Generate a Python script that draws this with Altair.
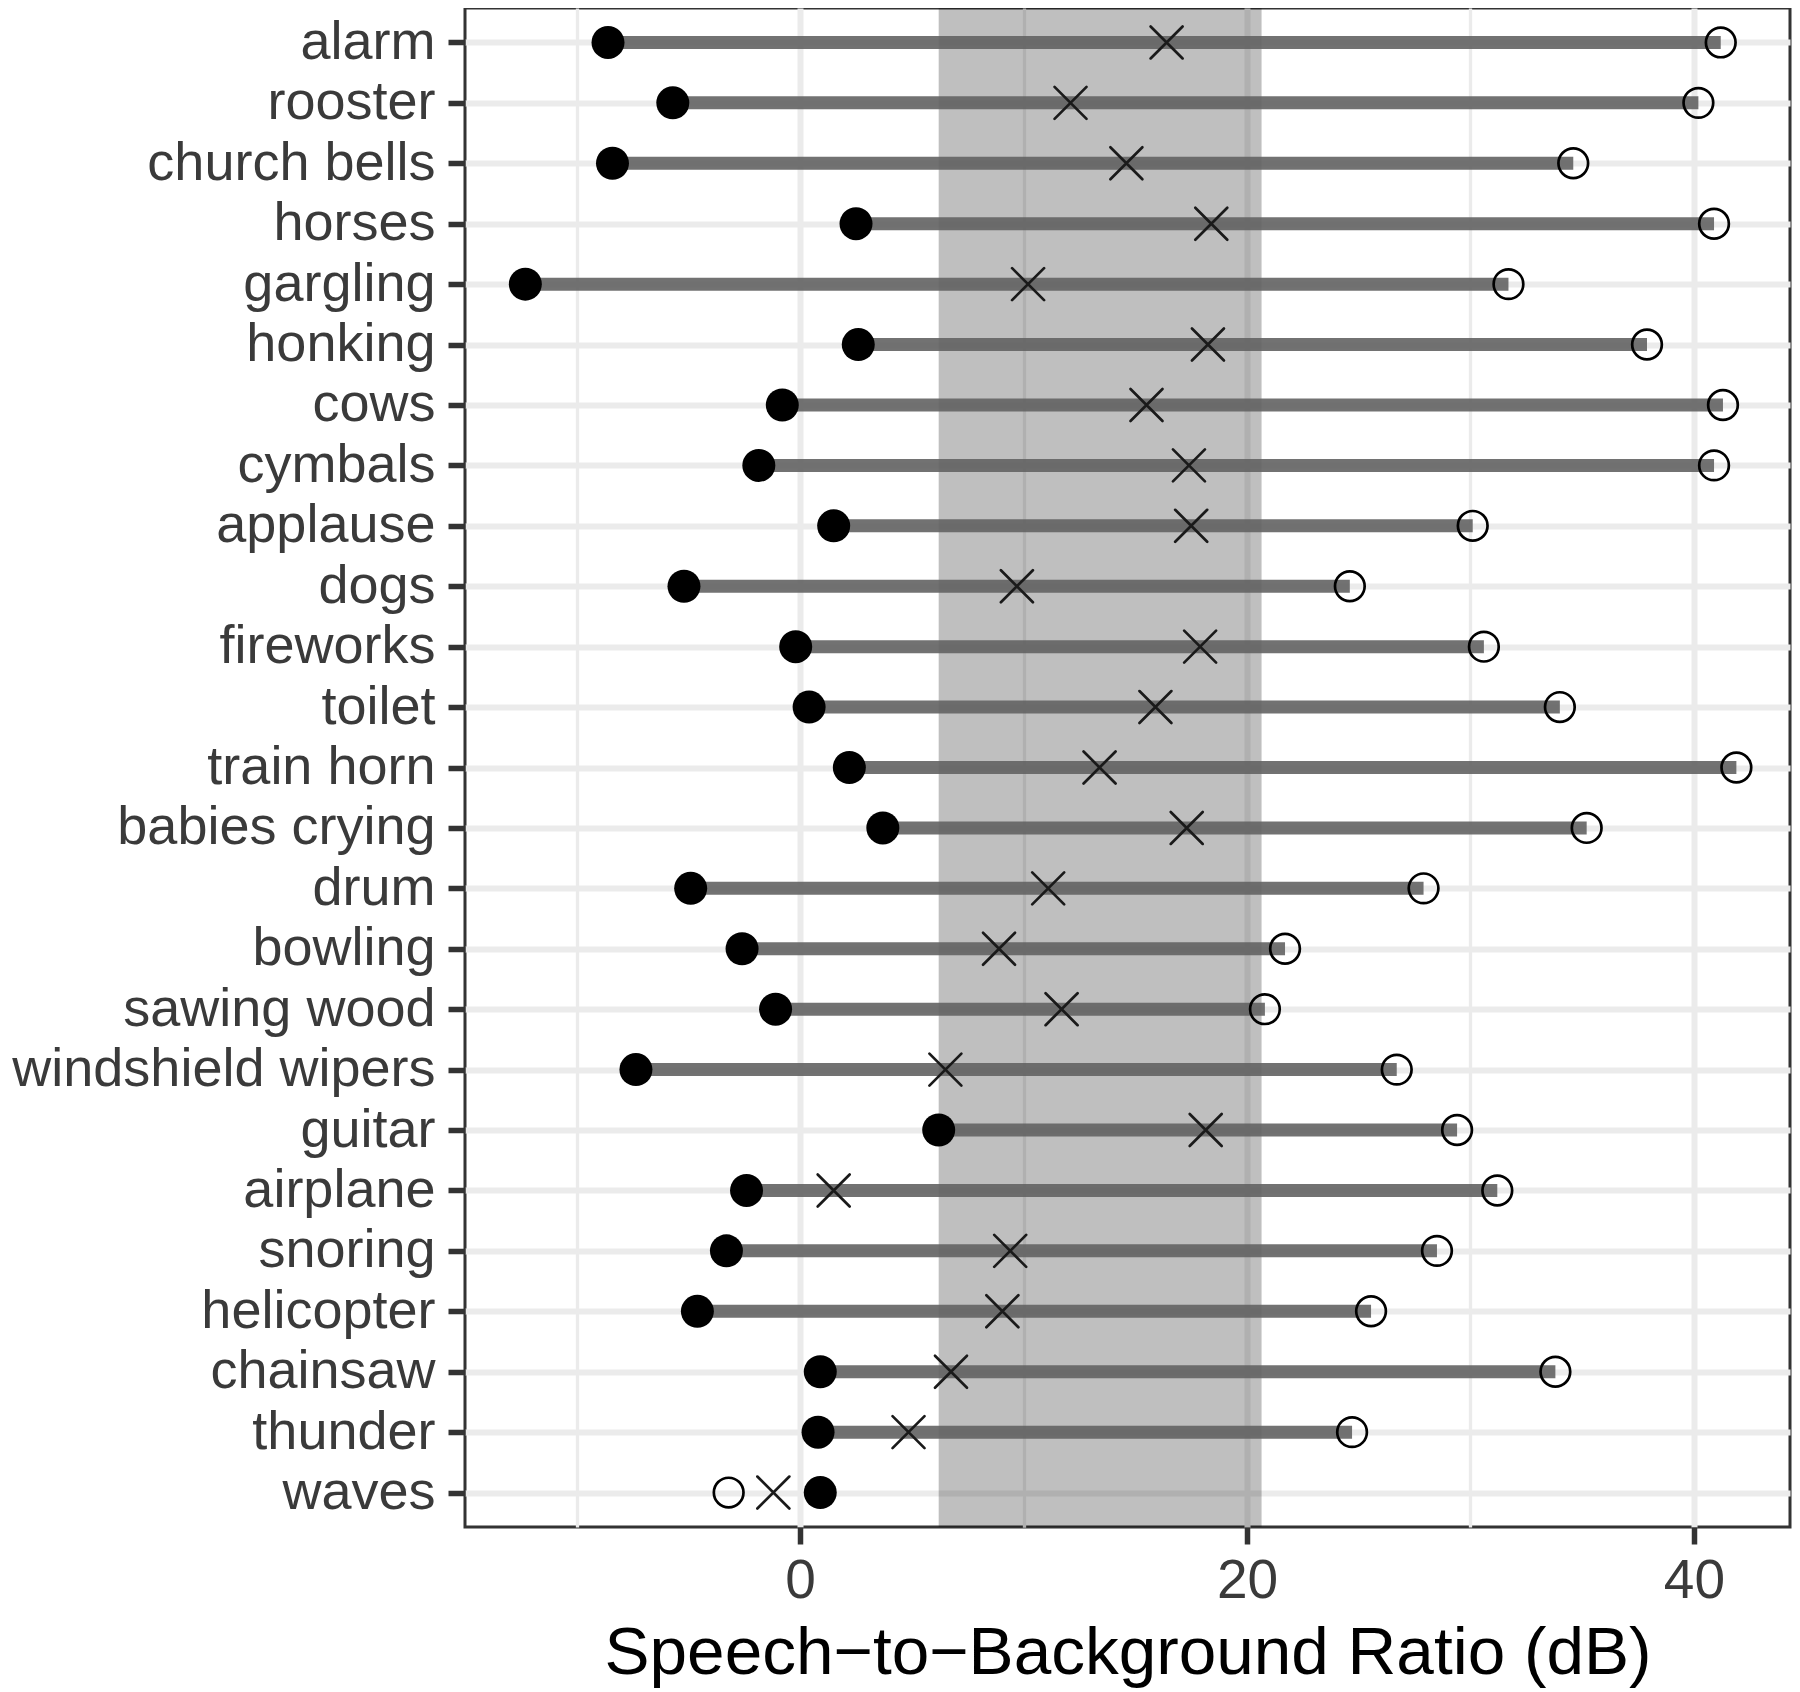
import altair as alt
import pandas as pd

categories = ["alarm", "rooster", "church bells", "horses", "gargling", "honking",
              "cows", "cymbals", "applause", "dogs", "fireworks", "toilet",
              "train horn", "babies crying", "drum", "bowling", "sawing wood",
              "windshield wipers", "guitar", "airplane", "snoring", "helicopter",
              "chainsaw", "thunder", "waves"]
filled_vals = [-8.6, -5.7, -8.4, 2.5, -12.3, 2.6, -0.8, -1.85, 1.5, -5.2, -0.2, 0.4,
               2.2, 3.7, -4.9, -2.6, -1.1, -7.35, 6.2, -2.4, -3.3, -4.6, 0.9, 0.8, 0.9]
cross_vals = [16.4, 12.1, 14.6, 18.4, 10.2, 18.25, 15.5, 17.4, 17.5, 9.7, 17.9, 15.9,
              13.4, 17.3, 11.1, 8.9, 11.7, 6.5, 18.15, 1.5, 9.4, 9.05, 6.75, 4.85, -1.2]
open_vals = [41.2, 40.2, 34.6, 40.9, 31.7, 37.9, 41.3, 40.9, 30.1, 24.6, 30.6, 34.0,
             41.9, 35.2, 27.9, 21.7, 20.8, 26.7, 29.4, 31.2, 28.5, 25.55, 33.8, 24.7, -3.2]
band_lo = [6.2]
band_hi = [20.65]
x_ticks = [-10, 0, 10, 20, 30, 40]

df = pd.DataFrame({"sound": categories, "filled": filled_vals,
                   "cross": cross_vals, "open": open_vals})
band_df = pd.DataFrame({"lo": band_lo, "hi": band_hi})

FONT = "Liberation Sans"
LABEL_COLOR = "#3a3a3a"
xscale = alt.Scale(domain=[-15.0, 44.3], nice=False, zero=False)
yscale = alt.Scale(type="point", padding=0.57)

x_axis = alt.Axis(
    values=x_ticks,
    labelExpr="datum.value % 20 == 0 ? datum.label : ''",
    title="Speech\u2212to\u2212Background Ratio (dB)",
    titleFont=FONT, titleFontSize=67.5, titleColor="black", titleFontWeight="normal",
    titleBaseline="alphabetic", titleY=146,
    labelFont=FONT, labelFontSize=55, labelColor=LABEL_COLOR, labelPadding=10,
    labelFlush=False, labelOverlap=False,
    tickSize=17, tickWidth=5.5, tickColor="#333333",
    tickOpacity={"condition": {"test": "datum.value % 20 == 0", "value": 1}, "value": 0},
    domain=False, grid=True, gridColor="#ebebeb",
    gridWidth={"condition": {"test": "datum.value % 20 == 0", "value": 6}, "value": 3.3},
)
y_axis = alt.Axis(
    title=None, labelFont=FONT, labelFontSize=54, labelColor=LABEL_COLOR,
    labelPadding=13, labelLimit=0, tickSize=17, tickWidth=5.5, tickColor="#333333",
    domain=False, grid=True, gridColor="#ebebeb", gridWidth=6,
)
y_enc = alt.Y("sound:N", sort=categories, scale=yscale, axis=y_axis)

band = alt.Chart(band_df).mark_rect(color="black", opacity=0.25).encode(
    x=alt.X("lo:Q", scale=xscale, axis=x_axis), x2="hi:Q")

segs = alt.Chart(df).transform_filter("datum.open > datum.filled").mark_rule(
    strokeWidth=13, color="#636363", opacity=0.9, strokeCap="butt").encode(
    x=alt.X("filled:Q", scale=xscale), x2="open:Q", y=y_enc)

filled = alt.Chart(df).mark_point(shape="circle", filled=True, size=1089,
                                  color="black", opacity=1).encode(
    x=alt.X("filled:Q", scale=xscale), y=y_enc)

crosses = alt.Chart(df).mark_point(shape="M-1,-1L1,1M-1,1L1,-1", filled=False,
                                   size=1024, strokeWidth=2.7, color="#1a1a1a",
                                   strokeCap="round", opacity=1).encode(
    x=alt.X("cross:Q", scale=xscale), y=y_enc)

opens = alt.Chart(df).mark_point(shape="circle", filled=False, size=880,
                                 strokeWidth=2.7, color="black", opacity=1).encode(
    x=alt.X("open:Q", scale=xscale), y=y_enc)

chart = alt.layer(band, segs, filled, crosses, opens).properties(
    width=1325, height=1519,
    autosize=alt.AutoSizeParams(type="none"),
    padding={"left": 457, "top": 0, "right": 2, "bottom": 165},
).configure_view(stroke="#333333", strokeWidth=3)

chart.save("out.html", embed_options={"renderer": "svg", "actions": False})
